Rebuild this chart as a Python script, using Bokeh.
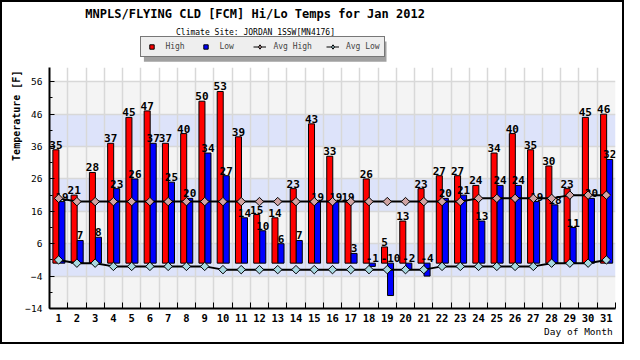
import numpy as np
from bokeh.plotting import figure
from bokeh.layouts import column
from bokeh.models import (ColumnDataSource, FixedTicker, Range1d, Legend, LegendItem,
                          Label, BoxAnnotation)
from bokeh.core.properties import value
from bokeh.transform import dodge
from bokeh.embed import file_html
from bokeh.resources import INLINE

# ---- data ----
days = list(range(1, 32))
high = [35, 21, 28, 37, 45, 47, 37, 40, 50, 53, 39, 15, 14, 23, 43, 33, 19, 26, 5, 13,
        23, 27, 27, 24, 34, 40, 35, 30, 23, 45, 46]
low = [19, 7, 8, 23, 26, 37, 25, 20, 34, 27, 14, 10, 6, 7, 19, 19, 3, -1, -10, -2,
       -4, 20, 21, 13, 24, 24, 19, 18, 11, 20, 32]
avg_high = [20, 19, 19, 19, 19, 19, 19, 19, 19, 19, 19, 19, 19, 19, 19, 19, 19, 19, 19, 19,
            19, 19, 19, 20, 20, 20, 20, 20, 21, 21, 21]
avg_low = [1, 0, 0, -1, -1, -1, -1, -1, -1, -2, -2, -2, -2, -2, -2, -2, -2, -2, -2, -2,
           -2, -1, -1, -1, -1, -1, -1, 0, 0, 0, 1]
y_ticks = [-14, -4, 6, 16, 26, 36, 46, 56]
y_minor = [-9, 1, 11, 21, 31, 41, 51]

TITLE = "MNPLS/FLYING CLD [FCM] Hi/Lo Temps for Jan 2012"
SUBTITLE = "Climate Site: JORDAN 1SSW[MN4176]"
Y_LABEL = "Temperature [F]"
X_LABEL = "Day of Month"

FNAME = "DejaVu Sans Mono"
FONT = value(FNAME)
RED, BLUE = "#ff0000", "#0000ff"
AVGH_C, AVGL_C = "#d0a4a4", "#a8d8e0"
BAND_BLUE, BAND_GRAY = "#dde3fa", "#f4f4f4"
NBSP = "\u00a0"

W = 620
TOP_H = 65
MAIN_H = 275
LEFT, RIGHT = 47, 7   # frame borders shared by both figures of the column

# ---------------- header figure: titles + legend ----------------
top = figure(width=W, height=TOP_H, x_range=Range1d(LEFT, W - RIGHT), y_range=Range1d(0, TOP_H),
             output_backend="svg", toolbar_location=None,
             x_axis_location=None, y_axis_location=None,
             min_border_left=LEFT, min_border_right=RIGHT,
             min_border_top=0, min_border_bottom=0)
top.grid.visible = False
top.outline_line_color = None
top.background_fill_color = "white"
top.border_fill_color = "white"

top.add_layout(Label(x=252.6, y=TOP_H - 11.4, text=TITLE, text_align="center",
                     text_baseline="middle", text_font=FNAME, text_font_size="12px",
                     text_font_style="bold", text_color="black"))
top.add_layout(Label(x=253, y=TOP_H - 30, text=SUBTITLE, text_align="center",
                     text_baseline="middle", text_font=FNAME, text_font_size="8px",
                     text_color="black"))
# legend shadow
top.add_layout(BoxAnnotation(left=141.4, right=384, bottom=5.8, top=26,
                             fill_color="#a0a0a0", fill_alpha=1, line_color=None,
                             level="underlay"))

proxy = ColumnDataSource(dict(x=[np.nan], y=[np.nan]))
rh = top.scatter("x", "y", source=proxy, marker="square", size=8, fill_color=RED, line_color="black")
rl = top.scatter("x", "y", source=proxy, marker="square", size=8, fill_color=BLUE, line_color="black")
lh2 = top.line("x", "y", source=proxy, line_color="black", line_width=1)
mh2 = top.scatter("x", "y", source=proxy, marker="diamond", size=11, fill_color=AVGH_C, line_color="black")
ll2 = top.line("x", "y", source=proxy, line_color="black", line_width=1)
ml2 = top.scatter("x", "y", source=proxy, marker="diamond", size=11, fill_color=AVGL_C, line_color="black")

legend = Legend(items=[
    LegendItem(label="High", renderers=[rh]),
    LegendItem(label="Low", renderers=[rl]),
    LegendItem(label="Avg High", renderers=[lh2, mh2]),
    LegendItem(label="Avg Low", renderers=[ll2, ml2]),
], orientation="horizontal", location=(138.4 - LEFT, 9.6),
    label_text_font=FNAME, label_text_font_size="8px",
    glyph_width=13, glyph_height=11, label_height=11, label_standoff=7,
    spacing=14, padding=4, margin=0,
    background_fill_color="#eeeeee", background_fill_alpha=1,
    border_line_color="black", border_line_width=1)
top.add_layout(legend, "center")

# ---------------- main chart ----------------
src = ColumnDataSource(dict(
    day=days, high=high, low=low,
    low_lab=[max(v, 0) for v in low],
    high_txt=[str(v) for v in high], low_txt=[str(v) for v in low],
    avg_high=avg_high, avg_low=avg_low,
))

p = figure(width=W, height=MAIN_H, x_range=Range1d(0.5, 31.5), y_range=Range1d(-14, 60.4),
           output_backend="svg", toolbar_location=None,
           min_border_left=LEFT, min_border_right=RIGHT, min_border_top=0, min_border_bottom=34)
p.background_fill_color = "white"
p.border_fill_color = "white"
p.outline_line_color = None

for i in range(len(y_ticks) - 1):
    p.add_layout(BoxAnnotation(bottom=y_ticks[i], top=y_ticks[i + 1],
                               fill_color=BAND_BLUE if i % 2 else BAND_GRAY,
                               fill_alpha=1, line_color=None, level="image"))

bounds = [d - 0.5 for d in days] + [days[-1] + 0.5]

p.xgrid.ticker = FixedTicker(ticks=bounds)
p.ygrid.ticker = FixedTicker(ticks=y_ticks)
for g in (p.xgrid, p.ygrid):
    g.grid_line_color = "#d8d8d8"
    g.grid_line_width = 1.5

p.xaxis.ticker = FixedTicker(ticks=days, minor_ticks=bounds)
p.xaxis.major_tick_in = 0
p.xaxis.major_tick_out = 0
p.xaxis.minor_tick_in = 6
p.xaxis.minor_tick_out = 0
p.xaxis.major_label_text_font = FNAME
p.xaxis.major_label_text_font_style = "bold"
p.xaxis.major_label_text_font_size = "10.5px"
p.xaxis.major_label_standoff = 5
# axis title pushed to the right end of the axis
p.xaxis.axis_label = NBSP * 86 + X_LABEL
p.xaxis.axis_label_text_font = FNAME
p.xaxis.axis_label_text_font_style = "normal"
p.xaxis.axis_label_text_font_size = "9.5px"
p.xaxis.axis_label_standoff = 1

p.yaxis.ticker = FixedTicker(ticks=y_ticks, minor_ticks=y_minor)
p.yaxis.major_tick_in = 5
p.yaxis.major_tick_out = 0
p.yaxis.minor_tick_in = 3
p.yaxis.minor_tick_out = 0
p.yaxis.major_label_text_font = FNAME
p.yaxis.major_label_text_font_size = "9.5px"
p.yaxis.major_label_standoff = 7
# axis title pushed toward the top of the axis
p.yaxis.axis_label = NBSP * 24 + Y_LABEL
p.yaxis.axis_label_text_font = FNAME
p.yaxis.axis_label_text_font_style = "bold"
p.yaxis.axis_label_text_font_size = "10px"
p.yaxis.axis_label_standoff = 0
for ax in (p.xaxis, p.yaxis):
    ax.axis_line_width = 2
    ax.axis_line_color = "black"
    ax.major_tick_line_color = "black"
    ax.minor_tick_line_color = "black"
    ax.major_label_text_color = "black"
    ax.axis_label_text_color = "black"

p.vbar(x=dodge("day", -0.15), top="high", bottom=0, width=0.33, source=src,
       fill_color=RED, line_color="black", line_width=1)
p.vbar(x=dodge("day", 0.18), top="low", bottom=0, width=0.33, source=src,
       fill_color=BLUE, line_color="black", line_width=1)

lab_kw = dict(text_align="center", text_baseline="alphabetic", y_offset=-5,
              text_font=FONT, text_font_style="bold", text_font_size="11px",
              text_color="black", source=src)
p.text(x=dodge("day", -0.15), y="high", text="high_txt", **lab_kw)
p.text(x=dodge("day", 0.18), y="low_lab", text="low_txt", **lab_kw)

p.line("day", "avg_high", source=src, line_color="black", line_width=2)
p.scatter("day", "avg_high", source=src, marker="square", angle=np.pi / 4, size=6,
          fill_color=AVGH_C, line_color="black", line_width=1)
p.line("day", "avg_low", source=src, line_color="black", line_width=2)
p.scatter("day", "avg_low", source=src, marker="square", angle=np.pi / 4, size=6,
          fill_color=AVGL_C, line_color="black", line_width=1)

layout = column(top, p, spacing=0, styles={"border": "2px solid black"})

open("out.html", "w").write(file_html(layout, INLINE))
